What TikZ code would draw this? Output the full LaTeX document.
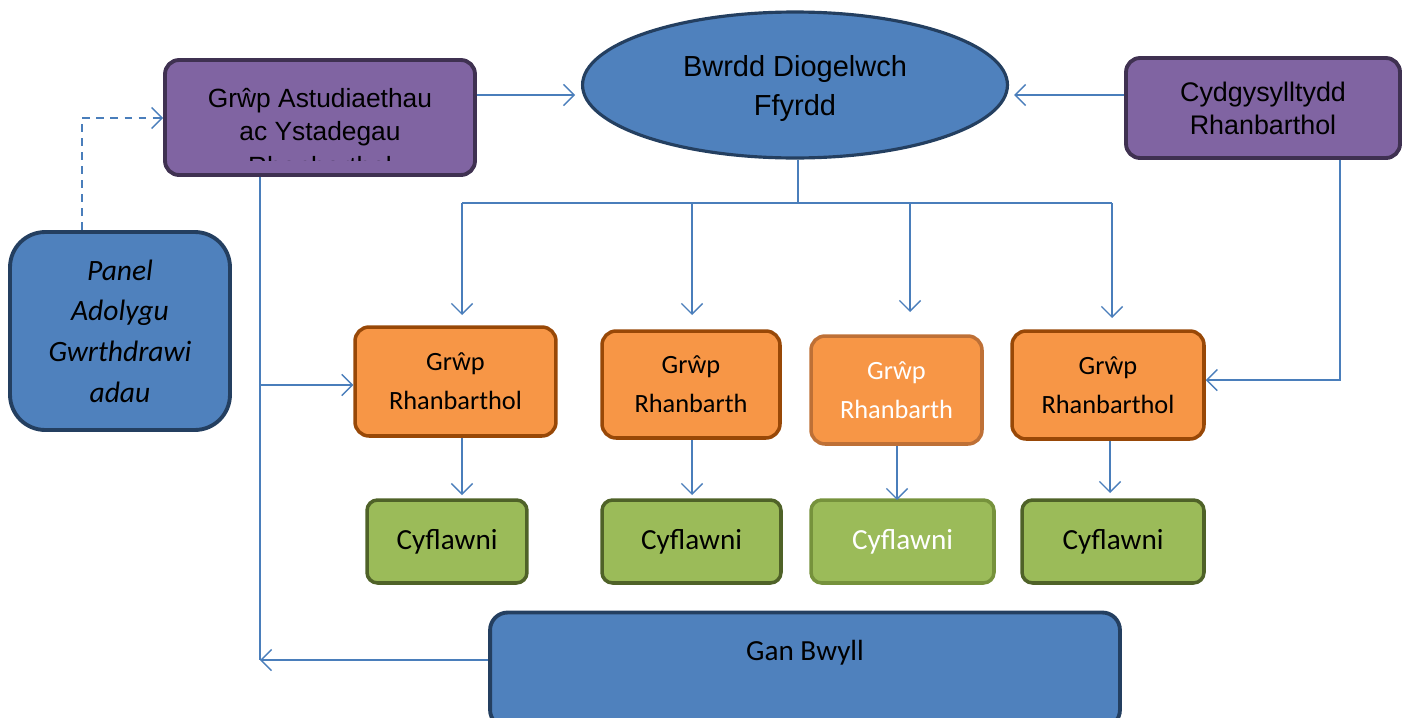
\documentclass[tikz,border=0pt]{standalone}
\usepackage{fontspec}
\setmainfont{Carlito}
\newfontfamily\arialfont{Liberation Sans}
\usetikzlibrary{arrows.meta,shapes.geometric}
\definecolor{purplefill}{HTML}{8064A2}
\definecolor{purpleline}{HTML}{3F3151}
\definecolor{bluefill}{HTML}{4F81BD}
\definecolor{blueline}{HTML}{243F60}
\definecolor{orangefill}{HTML}{F79646}
\definecolor{orangeline}{HTML}{984807}
\definecolor{orangelight}{HTML}{BE7036}
\definecolor{greenfill}{HTML}{9BBB59}
\definecolor{greenline}{HTML}{4F6228}
\definecolor{greenlight}{HTML}{76923C}
\definecolor{linkblue}{HTML}{4A7EBB}
\begin{document}
\begin{tikzpicture}[x=0.02cm,y=-0.02cm,
    purplebox/.style={draw=purpleline,fill=purplefill,line width=2.2pt,rounded corners=8pt,align=center},
    orangebox/.style={draw=orangeline,fill=orangefill,line width=2pt,rounded corners=8pt,
        align=center,font=\fontsize{15}{22}\selectfont},
    greenbox/.style={draw=greenline,fill=greenfill,line width=2pt,rounded corners=6pt,
        minimum height=1.66cm,font=\fontsize{16.6}{18}\selectfont},
    conn/.style={draw=linkblue,line width=0.8pt},
    arr/.style={-{Straight Barb[length=6pt,width=12pt]}}]
    \useasboundingbox (0,0) rectangle (1402,717);
    \node (astud) at (320,117.5) [purplebox,minimum width=6.2cm,minimum height=2.3cm,
        font=\arialfont\fontsize{15}{18.7}\selectfont] {Grŵp Astudiaethau\\ac Ystadegau};
    \begin{scope}
        \clip (170,62) rectangle (470,160);
        \node (astudcut) at (320,175) [anchor=base,font=\arialfont\fontsize{15}{18.7}\selectfont] {Rhanbarthol};
    \end{scope}
    \node (bwrdd) at (795,85) [ellipse,draw=blueline,fill=bluefill,line width=1.8pt,minimum width=8.5cm,minimum height=2.92cm,
        label={[anchor=center,yshift=-2pt,align=center,font=\arialfont\fontsize{16.5}{22.7}\selectfont]center:Bwrdd Diogelwch\\Ffyrdd}] {};
    \node (cydg) at (1263,108) [purplebox,minimum width=5.48cm,minimum height=2cm,
        font=\arialfont\fontsize{15.3}{18.7}\selectfont] {Cydgysylltydd\\Rhanbarthol};
    \node (panel) at (120,331) [draw=blueline,fill=bluefill,line width=2.2pt,rounded corners=20pt,minimum width=4.4cm,minimum height=3.96cm,
        align=center,font=\itshape\fontsize{16.8}{23.2}\selectfont] {Panel\\Adolygu\\Gwrthdrawi\\adau};
    \node (grp1) at (455.5,381.5) [orangebox,minimum width=4.02cm,minimum height=2.18cm] {Grŵp\\Rhanbarthol};
    \node (grp2) at (691,384.5) [orangebox,minimum width=3.56cm,minimum height=2.14cm] {Grŵp\\Rhanbarth};
    \node (grp3) at (896.5,390) [orangebox,draw=orangelight,text=white,minimum width=3.42cm,minimum height=2.16cm] {Grŵp\\Rhanbarth};
    \node (grp4) at (1108,385) [orangebox,minimum width=3.84cm,minimum height=2.16cm] {Grŵp\\Rhanbarthol};
    \node (cyf1) at (447,541.5) [greenbox,minimum width=3.2cm] {Cyflawni};
    \node (cyf2) at (691.5,541.5) [greenbox,minimum width=3.58cm] {Cyflawni};
    \node (cyf3) at (902.5,541.5) [greenbox,draw=greenlight,text=white,minimum width=3.66cm] {Cyflawni};
    \node (cyf4) at (1113,541.5) [greenbox,minimum width=3.64cm] {Cyflawni};
    \node (ganb) at (805,670) [draw=blueline,fill=bluefill,line width=2.2pt,rounded corners=10pt,minimum width=12.6cm,minimum height=2.3cm,
        label={[anchor=center,yshift=-24pt,font=\fontsize{16.6}{18}\selectfont]north:Gan Bwyll}] {};
    \coordinate (split) at (798,203);
    \draw[conn,arr] (astud.east |- 0,95) -- (575,95);
    \draw[conn,arr] (cydg.west |- 0,95) -- (1014,95);
    \draw[conn] (bwrdd.south -| split) -- (split);
    \draw[conn] (462,203) -- (1112,203);
    \draw[conn,arr] (462,203) -- (462,315);
    \draw[conn,arr] (692,203) -- (692,315);
    \draw[conn,arr] (910,203) -- (910,312);
    \draw[conn,arr] (1112,203) -- (1112,318);
    \draw[conn,arr] (cydg.south -| 1340,0) |- (grp4.east |- 0,380);
    \draw[conn] (astud.south -| 260,0) -- (260,660);
    \draw[conn,arr] (ganb.west |- 0,660) -- (260,660);
    \draw[conn,arr] (260,385) -- (grp1.west |- 0,385);
    \draw[conn,arr,dash pattern=on 4.5pt off 3.5pt] (panel.north -| 82,0) |- (astud.west |- 0,118);
    \draw[conn,arr] (grp1.south -| 462,0) -- (462,495);
    \draw[conn,arr] (grp2.south -| 692,0) -- (692,495);
    \draw[conn,arr] (grp3.south -| 897,0) -- (897,500);
    \draw[conn,arr] (grp4.south -| 1110,0) -- (1110,493);
\end{tikzpicture}
\end{document}
